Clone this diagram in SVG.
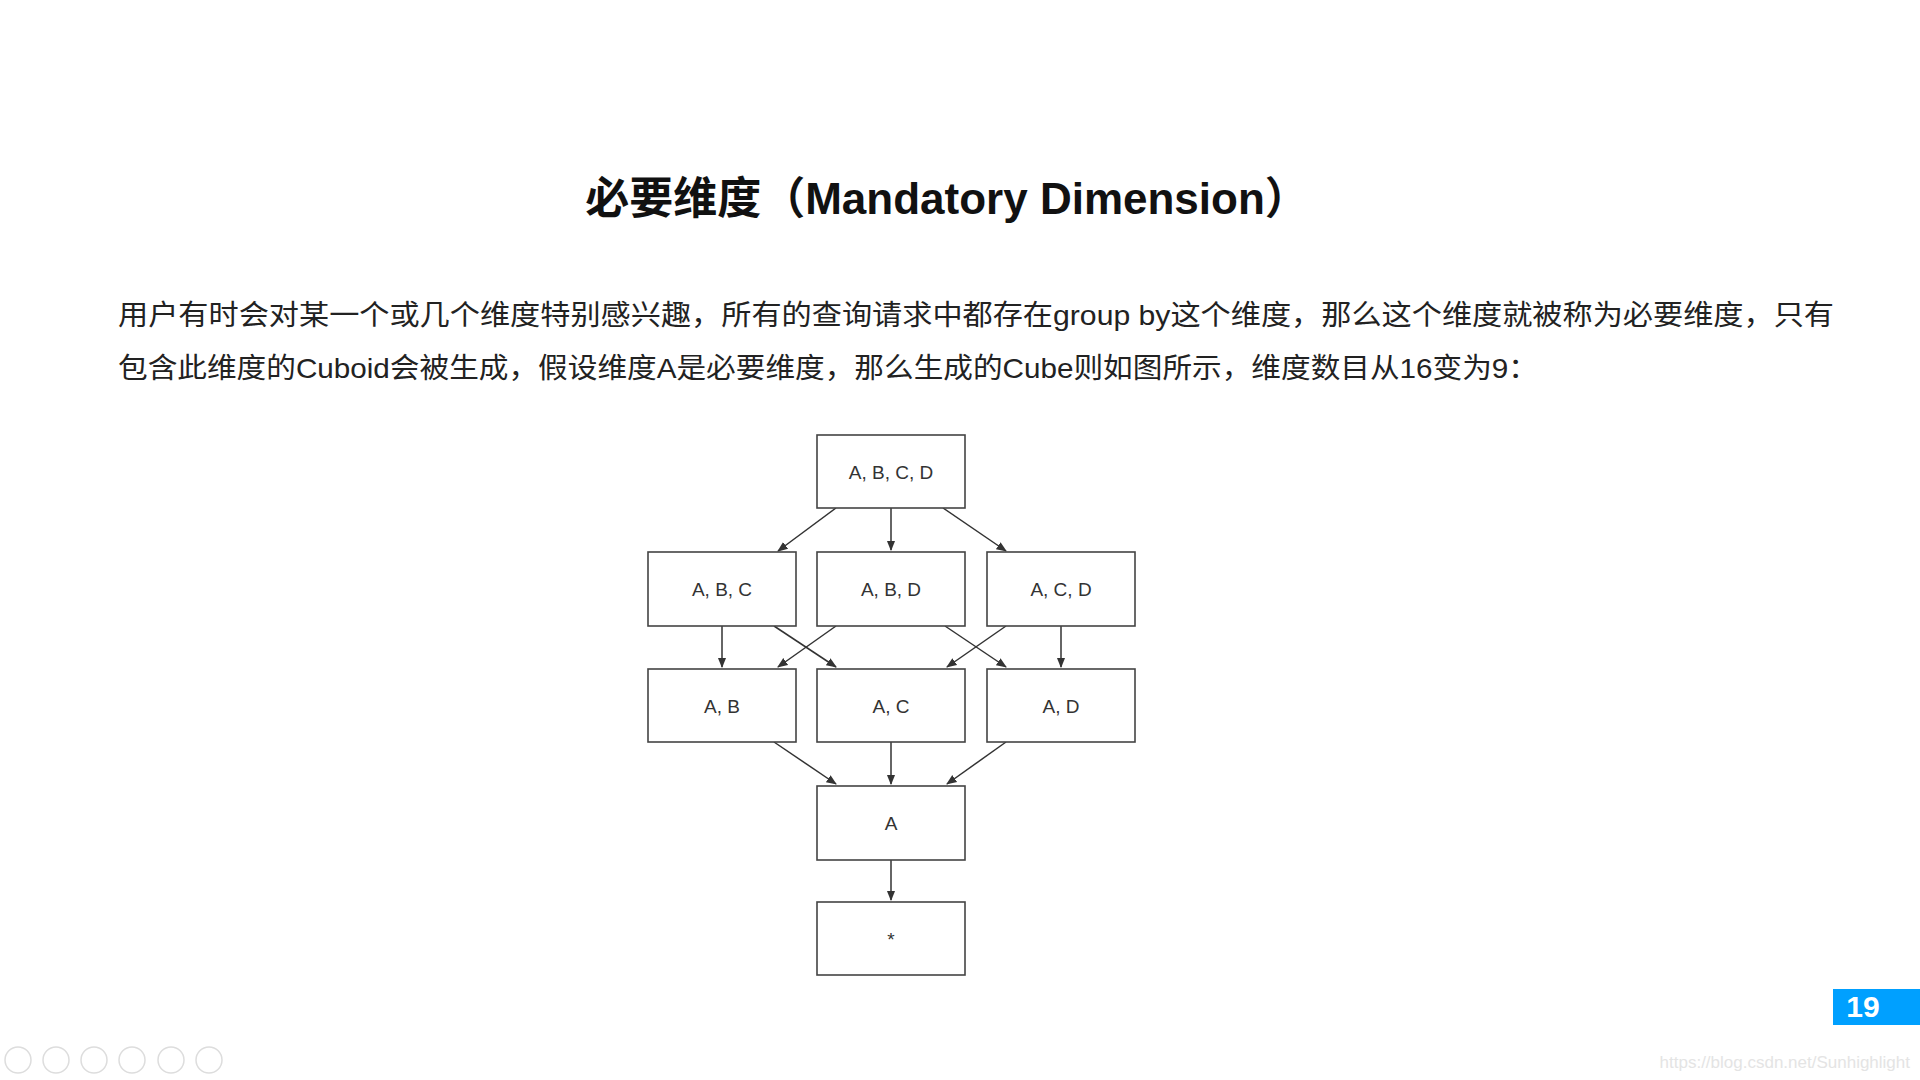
<svg xmlns="http://www.w3.org/2000/svg" width="1920" height="1080" viewBox="0 0 1920 1080">
<style>
.n rect{fill:#fff;stroke:#444;stroke-width:1.6}
.n text{font-family:"Liberation Sans",Arial,sans-serif;font-size:19px;fill:#333;text-anchor:middle;dominant-baseline:central}
#edges line{stroke:#333;stroke-width:1.5;marker-end:url(#ah)}
.t{font-family:"Liberation Sans","Noto Sans CJK SC",sans-serif}
.ic circle{fill:none;stroke:#ddd;stroke-width:1.5}
</style>
<defs><marker id="ah" viewBox="0 0 10 10" refX="9" refY="5" markerWidth="7" markerHeight="7" orient="auto"><path d="M0,1 L10,5 L0,9 z" fill="#333"/></marker></defs>
<rect width="1920" height="1080" fill="#fff"/>
<text class="t" x="947" y="214" font-size="44" font-weight="bold" text-anchor="middle" fill="#111">必要维度（Mandatory Dimension）</text>
<text class="t" x="118" y="325" font-size="28" fill="#222" textLength="1716" lengthAdjust="spacingAndGlyphs">用户有时会对某一个或几个维度特别感兴趣，所有的查询请求中都存在group  by这个维度，那么这个维度就被称为必要维度，只有</text>
<text class="t" x="118" y="378" font-size="28" fill="#222" textLength="1420" lengthAdjust="spacingAndGlyphs">包含此维度的Cuboid会被生成，假设维度A是必要维度，那么生成的Cube则如图所示，维度数目从16变为9：</text>
<g id="edges">
<line x1="836" y1="508" x2="778" y2="551"/>
<line x1="891" y1="508" x2="891" y2="550"/>
<line x1="943" y1="508" x2="1006" y2="551"/>
<line x1="722" y1="626" x2="722" y2="667"/>
<line x1="774" y1="626" x2="836" y2="667"/>
<line x1="836" y1="626" x2="778" y2="667"/>
<line x1="945" y1="626" x2="1006" y2="667"/>
<line x1="1006" y1="626" x2="947" y2="667"/>
<line x1="1061" y1="626" x2="1061" y2="667"/>
<line x1="774" y1="742" x2="836" y2="784"/>
<line x1="891" y1="742" x2="891" y2="784"/>
<line x1="1006" y1="742" x2="947" y2="784"/>
<line x1="891" y1="860" x2="891" y2="900"/>
</g>
<g id="abcd" class="n"><rect x="817" y="435" width="148" height="73"/><text x="891" y="472">A, B, C, D</text></g>
<g id="abc" class="n"><rect x="648" y="552" width="148" height="74"/><text x="722" y="589">A, B, C</text></g>
<g id="abd" class="n"><rect x="817" y="552" width="148" height="74"/><text x="891" y="589">A, B, D</text></g>
<g id="acd" class="n"><rect x="987" y="552" width="148" height="74"/><text x="1061" y="589">A, C, D</text></g>
<g id="ab" class="n"><rect x="648" y="669" width="148" height="73"/><text x="722" y="706">A, B</text></g>
<g id="ac" class="n"><rect x="817" y="669" width="148" height="73"/><text x="891" y="706">A, C</text></g>
<g id="ad" class="n"><rect x="987" y="669" width="148" height="73"/><text x="1061" y="706">A, D</text></g>
<g id="a" class="n"><rect x="817" y="786" width="148" height="74"/><text x="891" y="823">A</text></g>
<g id="star" class="n"><rect x="817" y="902" width="148" height="73"/><text x="891" y="939">*</text></g>
<rect x="1833" y="989" width="87" height="36" fill="#00a0ff"/>
<text class="t" x="1863" y="1017" font-size="30" font-weight="bold" fill="#fff" text-anchor="middle">19</text>
<g class="ic"><circle cx="18" cy="1060" r="13"/><circle cx="56" cy="1060" r="13"/><circle cx="94" cy="1060" r="13"/><circle cx="132" cy="1060" r="13"/><circle cx="171" cy="1060" r="13"/><circle cx="209" cy="1060" r="13"/></g>
<text class="t" x="1910" y="1068" font-size="17" fill="#e4e4e4" text-anchor="end">https://blog.csdn.net/Sunhighlight</text>
</svg>
